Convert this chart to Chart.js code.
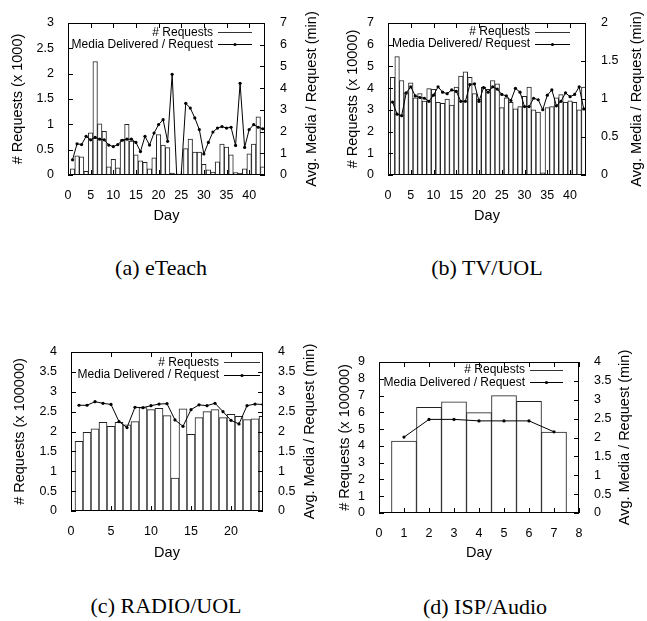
<!DOCTYPE html>
<html>
<head>
<meta charset="utf-8">
<script src="https://cdn.jsdelivr.net/npm/chart.js@4.4.1/dist/chart.umd.min.js"></script>
<style>
    body { margin: 0; background: #fff; }
    #figura { position: relative; width: 647px; height: 621px; background: #fff; }
    #figura canvas { position: absolute; }
    .legenda {
        position: absolute;
        font-family: 'Liberation Serif', 'Times New Roman', serif;
        font-size: 22px;
        line-height: 26px;
        white-space: nowrap;
        transform: translateX(-50%);
    }
</style>
</head>
<body>
<div id="figura">
    <canvas id="painelA" width="323" height="232" style="left:0px;top:0px"></canvas>
    <canvas id="painelB" width="327" height="232" style="left:320px;top:0px"></canvas>
    <canvas id="painelC" width="323" height="252" style="left:0px;top:320px"></canvas>
    <canvas id="painelD" width="327" height="252" style="left:320px;top:320px"></canvas>
    <div class="legenda" style="left:161px;top:255px">(a) eTeach</div>
    <div class="legenda" style="left:487px;top:255px">(b) TV/UOL</div>
    <div class="legenda" style="left:166px;top:593px">(c) RADIO/UOL</div>
    <div class="legenda" style="left:485px;top:594px">(d) ISP/Audio</div>
</div>
<script>
// Dados
const diasA = [1, 2, 3, 4, 5, 6, 7, 8, 9, 10, 11, 12, 13, 14, 15, 16, 17, 18, 19, 20, 21, 22,
    23, 24, 25, 26, 27, 28, 29, 30, 31, 32, 33, 34, 35, 36, 37, 38, 39, 40, 41, 42, 43];
const requisicoesA = [0.12, 0.38, 0.36, 0.07, 0.83, 2.24, 1.01, 0.86, 0.16, 0.31, 0.14, 0.7, 1.0,
    0.67, 0.4, 0.28, 0.25, 0.12, 0.34, 0.8, 0.59, 0.54, 0.04, 0, 0, 0.52, 0.71, 0.45, 0.45, 0.21,
    0.1, 0.06, 0.26, 0.61, 0.55, 0.4, 0.05, 0.04, 0.12, 0.42, 0.61, 1.15, 0.16];
const mediaA = [0.7, 1.44, 1.4, 1.78, 1.62, 1.73, 1.65, 1.62, 1.38, 1.31, 1.4, 1.6, 1.65, 1.65,
    1.5, 1.08, 1.78, 1.38, 1.93, 2.32, 2.55, 1.55, 4.64, 0, 0, 3.3, 3.08, 2.63, 2.09, 0.97, 1.5,
    1.98, 2.16, 2.23, 2.16, 2.2, 1.36, 4.22, 1.27, 2.09, 2.32, 2.2, 2.13];

const diasB = [1, 2, 3, 4, 5, 6, 7, 8, 9, 10, 11, 12, 13, 14, 15, 16, 17, 18, 19, 20, 21, 22,
    23, 24, 25, 26, 27, 28, 29, 30, 31, 32, 33, 34, 35, 36, 37, 38, 39, 40, 41, 42, 43];
const requisicoesB = [4.5, 5.45, 4.35, 3.8, 4.25, 3.55, 3.75, 3.4, 3.98, 3.95, 3.35, 3.3, 3.5,
    3.22, 4.05, 4.55, 4.75, 4.5, 3.75, 3.5, 4.05, 3.95, 4.35, 4.2, 3.1, 3.55, 3.35, 3.05, 3.15,
    3.62, 4.05, 3.0, 2.9, 0.1, 3.1, 3.15, 3.55, 3.7, 3.35, 3.42, 3.35, 3.0, 4.05];
const mediaB = [0.96, 0.8, 0.78, 1.08, 1.16, 1.04, 1.02, 1.01, 0.97, 1.05, 1.16, 1.09, 1.07, 1.12,
    1.1, 0.97, 0.97, 1.19, 1.2, 0.97, 1.15, 1.09, 1.16, 1.13, 1.06, 1.04, 0.98, 1.14, 1.09, 0.9,
    0.9, 1.01, 0.99, 0.86, 1.05, 1.12, 0.91, 0.97, 1.08, 1.03, 1.06, 1.16, 0.87];

const diasC = [1, 2, 3, 4, 5, 6, 7, 8, 9, 10, 11, 12, 13, 14, 15, 16, 17, 18, 19, 20, 21, 22, 23, 24];
const requisicoesC = [1.75, 1.98, 2.07, 2.23, 2.13, 2.23, 2.17, 2.25, 2.6, 2.55, 2.58, 2.4, 0.83,
    2.57, 1.93, 2.35, 2.5, 2.55, 2.35, 2.43, 2.38, 2.3, 2.32, 2.38];
const mediaC = [2.66, 2.66, 2.75, 2.71, 2.68, 2.25, 2.1, 2.61, 2.6, 2.65, 2.69, 2.7, 2.29, 2.13,
    2.55, 2.67, 2.65, 2.71, 2.5, 2.28, 2.19, 2.65, 2.69, 2.68];

const diasD = [1, 2, 3, 4, 5, 6, 7];
const requisicoesD = [4.28, 6.3, 6.62, 5.98, 7.0, 6.65, 4.82];
const mediaD = [2.01, 2.48, 2.48, 2.44, 2.44, 2.44, 2.15];

Chart.defaults.font.family = "'Liberation Sans', Arial, sans-serif";
Chart.defaults.color = '#000';

const fonteEixo = { size: 12.5 };
const fonteTitulo = { size: 14.5 };

// Moldura, marcas internas, chave e título do eixo da direita (estilo gnuplot)
const molduraGnuplot = {
    id: 'molduraGnuplot',
    afterDatasetsDraw(chart, args, opts) {
        const { ctx, chartArea: a, scales } = chart;
        const tam = 5;
        const r = v => Math.round(v) + 0.5;
        ctx.save();
        ctx.strokeStyle = '#000';
        ctx.lineWidth = 1;

        ctx.beginPath();
        scales.x.ticks.forEach(t => {
            const px = r(scales.x.getPixelForValue(t.value));
            ctx.moveTo(px, a.bottom); ctx.lineTo(px, a.bottom - tam);
            ctx.moveTo(px, a.top); ctx.lineTo(px, a.top + tam);
        });
        scales.y.ticks.forEach(t => {
            const py = r(scales.y.getPixelForValue(t.value));
            ctx.moveTo(a.left, py); ctx.lineTo(a.left + tam, py);
        });
        scales.y1.ticks.forEach(t => {
            const py = r(scales.y1.getPixelForValue(t.value));
            ctx.moveTo(a.right, py); ctx.lineTo(a.right - tam, py);
        });
        ctx.stroke();
        ctx.strokeRect(r(a.left), r(a.top), Math.round(a.width) - 1, Math.round(a.height) - 1);

        // chave
        const chave = opts.chave;
        const fimAmostra = a.right - chave.recuo;
        const inicioAmostra = fimAmostra - chave.comprimento;
        ctx.font = "12px 'Liberation Sans', Arial, sans-serif";
        ctx.fillStyle = '#000';
        ctx.textAlign = 'right';
        ctx.textBaseline = 'middle';
        chart.data.datasets.forEach((ds, i) => {
            const y = a.top + chave.linha1 + i * chave.passo;
            ctx.fillText(ds.label, inicioAmostra - 5, y);
            ctx.beginPath();
            ctx.strokeStyle = i === 0 ? '#333' : '#000';
            ctx.moveTo(inicioAmostra, r(y));
            ctx.lineTo(fimAmostra, r(y));
            ctx.stroke();
            if (ds.type === 'line') {
                ctx.beginPath();
                ctx.arc((inicioAmostra + fimAmostra) / 2, r(y), 1.6, 0, Math.PI * 2);
                ctx.fill();
            }
        });

        // título do eixo da direita, lido de baixo para cima
        ctx.save();
        ctx.translate(scales.y1.right - opts.recuoTituloDireita, (a.top + a.bottom) / 2);
        ctx.rotate(-Math.PI / 2);
        ctx.textAlign = 'center';
        ctx.font = "14.5px 'Liberation Sans', Arial, sans-serif";
        ctx.fillText(opts.tituloDireita, 0, 0);
        ctx.restore();

        ctx.restore();
    }
};

function criarPainel(id, p) {
    const ctx = document.getElementById(id);
    if (!ctx) return null;

    return new Chart(ctx, {
        data: {
            datasets: [{
                type: 'bar',
                label: '# Requests',
                data: p.dias.map((d, i) => ({ x: d, y: p.requisicoes[i] })),
                yAxisID: 'y',
                backgroundColor: '#ffffff',
                borderColor: '#222222',
                borderWidth: 1,
                barPercentage: 1,
                categoryPercentage: 1,
                order: 2
            }, {
                type: 'line',
                label: p.rotuloMedia,
                data: p.dias.map((d, i) => ({ x: d, y: p.media[i] })),
                yAxisID: 'y1',
                borderColor: '#000000',
                borderWidth: 1,
                pointRadius: 1.6,
                pointBackgroundColor: '#000000',
                pointBorderWidth: 0,
                tension: 0,
                order: 1
            }]
        },
        options: {
            responsive: false,
            animation: false,
            layout: { padding: { top: p.topo, left: 0, right: 0, bottom: 0 } },
            plugins: {
                legend: { display: false },
                tooltip: { enabled: false },
                molduraGnuplot: {
                    chave: p.chave,
                    tituloDireita: 'Avg. Media / Request (min)',
                    recuoTituloDireita: p.recuoTituloDireita
                }
            },
            scales: {
                x: {
                    type: 'linear',
                    min: 0,
                    max: p.xMax,
                    offset: false,
                    grid: { display: false },
                    border: { display: false },
                    ticks: { stepSize: p.xPasso, includeBounds: false, font: fonteEixo, padding: 5,
                        maxRotation: 0, autoSkip: false, callback: v => String(v) },
                    title: { display: true, text: 'Day', font: fonteTitulo, padding: { top: 0, bottom: p.tituloXBase } },
                    afterFit: s => { s.height = p.alturaX; }
                },
                y: {
                    position: 'left',
                    min: 0,
                    max: p.yMax,
                    grid: { display: false },
                    border: { display: false },
                    ticks: { stepSize: p.yPasso, includeBounds: false, font: fonteEixo, padding: 6,
                        autoSkip: false, callback: v => String(v) },
                    title: { display: true, text: p.tituloEsquerda, font: fonteTitulo, padding: { top: p.tituloYEsq, bottom: 0 } },
                    afterFit: s => { s.width = p.larguraEsq; }
                },
                y1: {
                    position: 'right',
                    min: 0,
                    max: p.y1Max,
                    grid: { display: false },
                    border: { display: false },
                    ticks: { stepSize: p.y1Passo, includeBounds: false, font: fonteEixo, padding: 7,
                        autoSkip: false, callback: v => String(v) },
                    afterFit: s => { s.width = p.larguraDir; }
                }
            }
        },
        plugins: [molduraGnuplot]
    });
}

criarPainel('painelA', {
    dias: diasA, requisicoes: requisicoesA, media: mediaA,
    rotuloMedia: 'Media Delivered / Request',
    tituloEsquerda: '# Requests (x 1000)',
    xMax: 43.5, xPasso: 5, yMax: 3, yPasso: 0.5, y1Max: 7, y1Passo: 1,
    topo: 23, larguraEsq: 68, larguraDir: 58, alturaX: 57,
    tituloXBase: 7.6, tituloYEsq: 9.4, recuoTituloDireita: 11,
    chave: { recuo: 13, linha1: 9.3, passo: 12, comprimento: 34 }
});

criarPainel('painelB', {
    dias: diasB, requisicoes: requisicoesB, media: mediaB,
    rotuloMedia: 'Media Delivered/ Request',
    tituloEsquerda: '# Requests (x 10000)',
    xMax: 43.5, xPasso: 5, yMax: 7, yPasso: 1, y1Max: 2, y1Passo: 0.5,
    topo: 23, larguraEsq: 68, larguraDir: 61, alturaX: 57,
    tituloXBase: 7.6, tituloYEsq: 24.4, recuoTituloDireita: 10,
    chave: { recuo: 16, linha1: 9, passo: 12, comprimento: 35 }
});

criarPainel('painelC', {
    dias: diasC, requisicoes: requisicoesC, media: mediaC,
    rotuloMedia: 'Media Delivered / Request',
    tituloEsquerda: '# Requests (x 100000)',
    xMax: 24, xPasso: 5, yMax: 4, yPasso: 0.5, y1Max: 4, y1Passo: 0.5,
    topo: 32, larguraEsq: 71, larguraDir: 60, alturaX: 61,
    tituloXBase: 10.3, tituloYEsq: 11.4, recuoTituloDireita: 13,
    chave: { recuo: 3, linha1: 10.3, passo: 12.7, comprimento: 36 }
});

criarPainel('painelD', {
    dias: diasD, requisicoes: requisicoesD, media: mediaD,
    rotuloMedia: 'Media Delivered / Request',
    tituloEsquerda: '# Requests (x 100000)',
    xMax: 8, xPasso: 1, yMax: 9, yPasso: 1, y1Max: 4, y1Passo: 0.5,
    topo: 42, larguraEsq: 59, larguraDir: 68, alturaX: 59,
    tituloXBase: 10.3, tituloYEsq: 16.4, recuoTituloDireita: 22,
    chave: { recuo: 16, linha1: 8, passo: 12.3, comprimento: 33 }
});
</script>
</body>
</html>
